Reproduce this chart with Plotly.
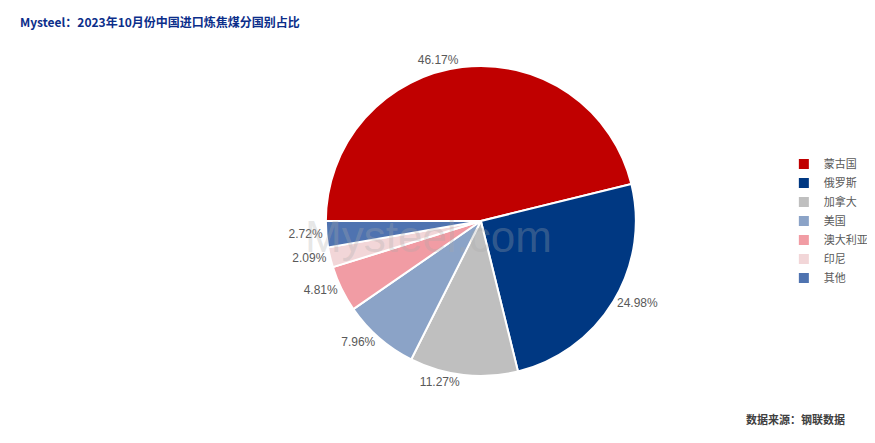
import plotly.graph_objects as go

countries = ["蒙古国", "俄罗斯", "加拿大", "美国", "澳大利亚", "印尼", "其他"]
shares = [46.17, 24.98, 11.27, 7.96, 4.81, 2.09, 2.72]
colors = ["#C00000", "#003882", "#BFBFBF", "#8BA3C7", "#F19CA4", "#F2D6D8", "#4F73B0"]

fig = go.Figure(go.Pie(
    labels=countries,
    values=shares,
    sort=False,
    direction="clockwise",
    rotation=270,
    marker=dict(colors=colors, line=dict(color="white", width=2)),
    texttemplate="%{value:.2f}%",
    textposition="outside",
    textfont=dict(color="#595959", size=12, family="Liberation Sans"),
    domain=dict(x=[0.303, 0.803], y=[0, 1]),
))

fig.add_annotation(text="<b>Mysteel：2023年10月份中国进口炼焦煤分国别占比</b>", x=0.0, y=1.145,
                   xref="paper", yref="paper", xanchor="left", yanchor="middle", showarrow=False,
                   font=dict(size=12, color="#0B2E8A", family="Noto Sans CJK SC"))
fig.add_annotation(text="<b>数据来源：钢联数据</b>", x=0.99, y=-0.14, xref="paper", yref="paper",
                   xanchor="right", yanchor="middle", showarrow=False,
                   font=dict(size=11, color="#404040", family="Noto Sans CJK SC"))
fig.add_annotation(text="Mysteel.com", x=0.49, y=0.45, xref="paper", yref="paper", showarrow=False,
                   font=dict(size=44, color="rgba(170,170,170,0.3)", family="Liberation Sans"))

fig.update_layout(
    width=875, height=443,
    margin=dict(l=10, r=10, t=58, b=75),
    paper_bgcolor="white",
    legend=dict(x=0.915, y=0.5, xanchor="left", yanchor="middle",
                font=dict(size=11, color="#595959", family="Noto Sans CJK SC")),
)
fig.write_html("out.html")
